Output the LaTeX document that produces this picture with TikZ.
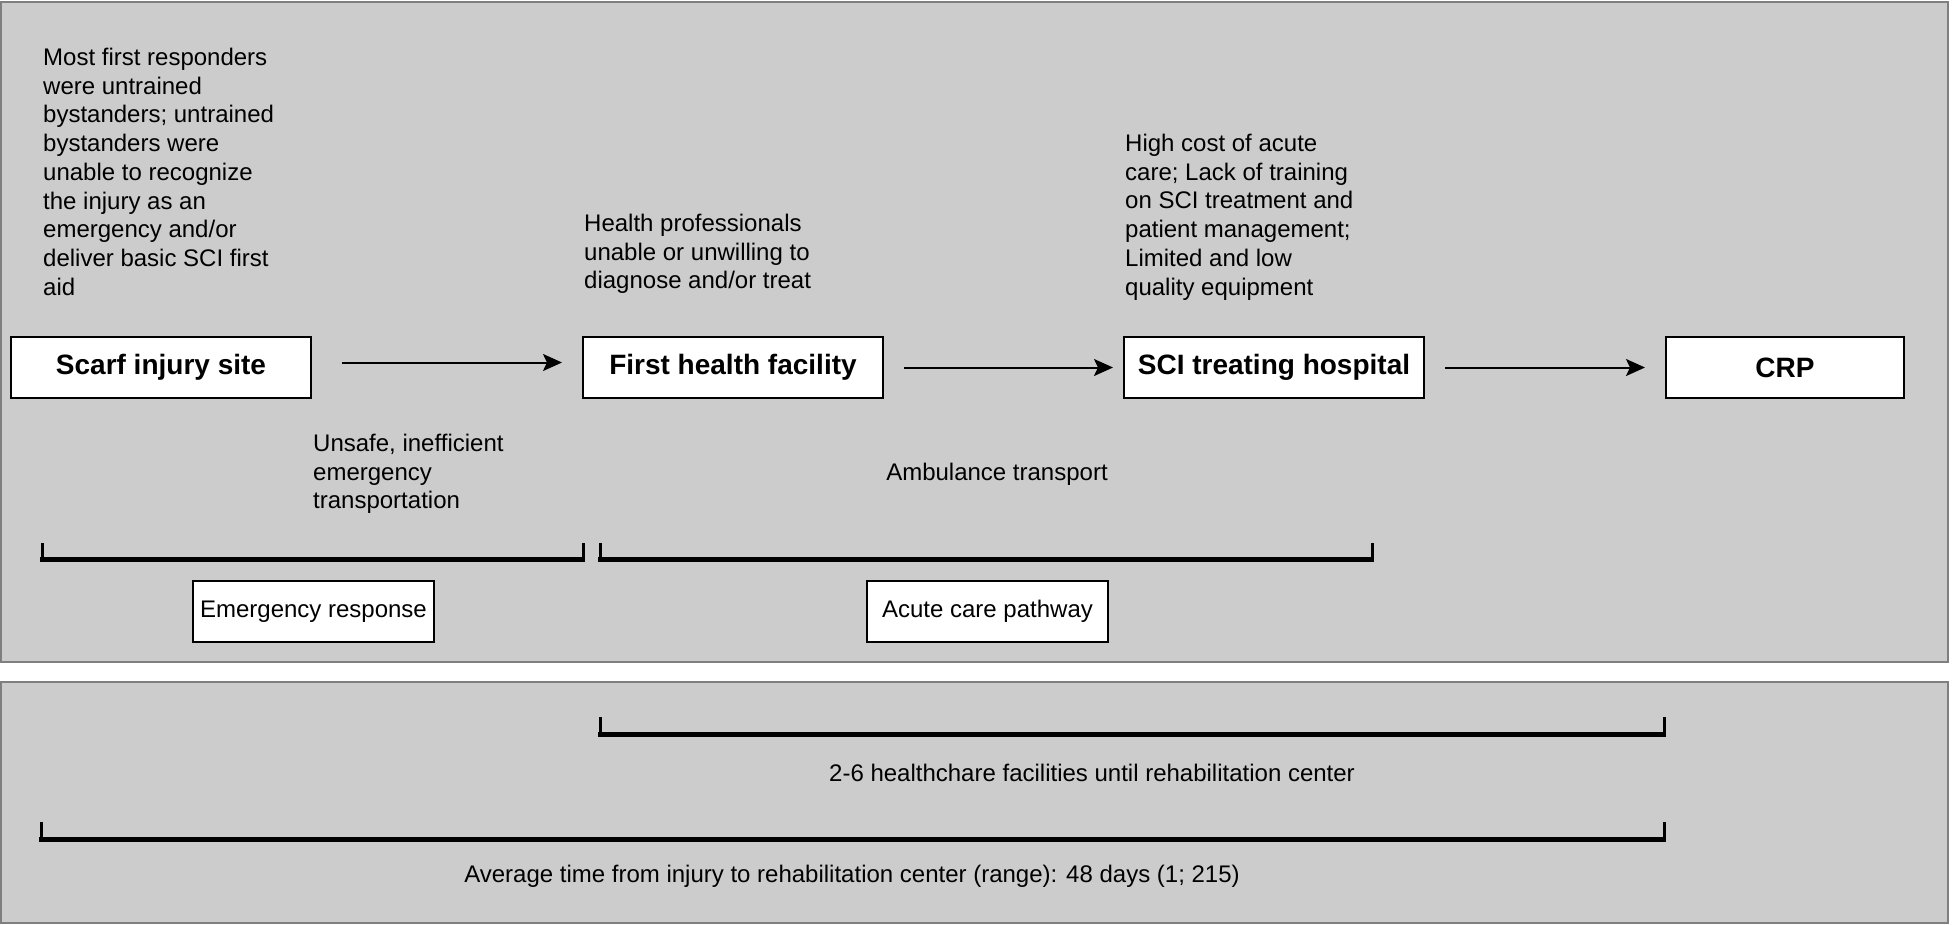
\documentclass[tikz,border=0pt]{standalone}
\usepackage{fontspec}
\setmainfont{Liberation Sans}
\usetikzlibrary{positioning, arrows.meta}
\definecolor{panelgray}{HTML}{CCCCCC}
\definecolor{panelline}{HTML}{7F7F7F}

\tikzset{
  stage/.style={draw, line width=2pt, fill=white, minimum width=300pt, minimum height=61pt, inner sep=0pt, font=\fontsize{28}{28}\selectfont\bfseries},
  phase/.style={draw, line width=2pt, fill=white, minimum width=241pt, minimum height=61pt, inner sep=0pt, font=\fontsize{24}{28}\selectfont},
  note/.style={align=left, inner sep=0pt, font=\fontsize{24}{28.7}\selectfont},
  flow/.style={-{Stealth[length=19pt,width=17pt,inset=4pt]}, line width=2pt, shorten <=20pt, shorten >=20pt},
  bar/.style={line width=5pt},
  tick/.style={line width=3pt},
}

\begin{document}
\begin{tikzpicture}[x=1pt, y=-1pt]
\useasboundingbox (0,0) rectangle (1952,924);
\draw[panelline, fill=panelgray, line width=2.5pt] (1,2) rectangle (1948,662);
\draw[panelline, fill=panelgray, line width=2.5pt] (1,682) rectangle (1948,923);

\node[note, anchor=north west](Bystand) at (43,48){Most first responders\\ were untrained\\ bystanders; untrained\\ bystanders were\\ unable to recognize\\ the injury as an\\ emergency and/or\\ deliver basic SCI first\\ aid};
\node[note, anchor=north west](Prof) at (584,214){Health professionals\\ unable or unwilling to\\ diagnose and/or treat};
\node[note, anchor=north west](Cost) at (1125,134){High cost of acute\\ care; Lack of training\\ on SCI treatment and\\ patient management;\\ Limited and low\\ quality equipment};

\node[stage](Site) at (161,367.5){Scarf injury site};
\node[stage, right=270pt of Site](First){First health facility};
\node[stage, right=239pt of First](SCI){SCI treating hospital};
\node[stage, right=240pt of SCI, minimum width=238pt](CRP){CRP};
\draw[flow, shorten <=30pt] ([yshift=5pt]Site.east) -- ([yshift=5pt]First.west);
\draw[flow, shorten >=10pt] (First) -- (SCI);
\draw[flow] (SCI) -- (CRP);

\node[note, anchor=north west](Unsafe) at (313,434){Unsafe, inefficient\\ emergency\\ transportation};
\node[note, anchor=base](Amb) at (997,480){Ambulance transport};

%brackets
\draw[bar] (40,559) -- (585,559);
\draw[tick] (42,543) -- (42,559) (583,543) -- (583,559);
\draw[bar] (598,559) -- (1374,559);
\draw[tick] (600,543) -- (600,559) (1372,543) -- (1372,559);
\node[phase](Emerg) at (313.5,611.5){Emergency response};
\node[phase](Acute) at (987.5,611.5){Acute care pathway};

\draw[bar] (598,734) -- (1666,734);
\draw[tick] (600,717) -- (600,734) (1664,717) -- (1664,734);
\node[note, anchor=base](Fac) at (1092,781){2-6 healthchare facilities until rehabilitation center};
\draw[bar] (39,839) -- (1666,839);
\draw[tick] (41,822) -- (41,839) (1664,822) -- (1664,839);
\node[note, anchor=base](Avg) at (852,882){Average time from injury to rehabilitation center (range): 48 days (1; 215)};
\end{tikzpicture}
\end{document}
